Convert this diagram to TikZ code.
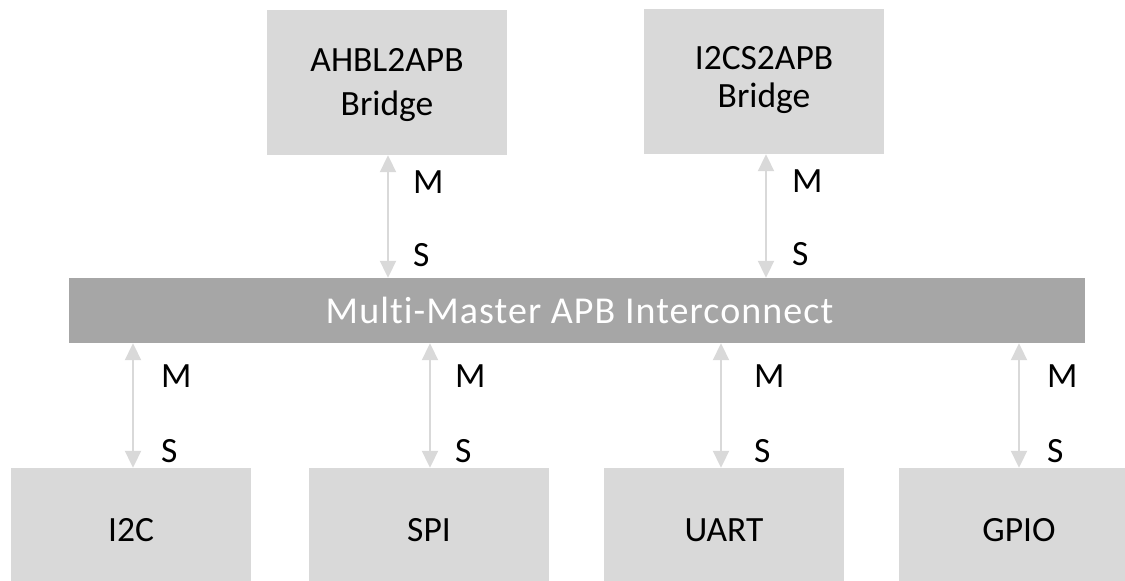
\documentclass[tikz,border=0pt]{standalone}
\usepackage{fontspec}
\setmainfont{Carlito}
\newfontfamily\barfont[Ligatures=NoCommon,LetterSpace=2.8]{Carlito}
\usetikzlibrary{arrows.meta}
\definecolor{boxgray}{HTML}{D9D9D9}
\definecolor{bargray}{HTML}{A6A6A6}
\definecolor{arrgray}{HTML}{D9D9D9}
\tikzset{
  unit/.style={fill=boxgray, draw=none, minimum width=240pt, inner sep=0pt, align=center,
    font=\fontsize{35.5}{43}\selectfont},
  busbar/.style={fill=bargray, draw=none, minimum width=1016pt, minimum height=65pt, inner sep=0pt,
    text=white, font=\barfont\fontsize{38}{43}\selectfont},
  conn/.style={draw=arrgray, line width=2pt,
    {Triangle[width=16pt,length=17pt]}-{Triangle[width=16pt,length=17pt]}},
  lbl/.style={anchor=west, inner sep=0pt, font=\fontsize{35.5}{43}\selectfont},
}
\begin{document}
\begin{tikzpicture}[x=1pt,y=-1pt]
\useasboundingbox (0,0) rectangle (1125,581);
% top bridges
\node[unit, minimum height=145pt] (ahb) at (387,82.5) {};
\node[unit, font=\fontsize{35.5}{44}\selectfont, fill=none] (ahbt) at ([yshift=-2.5pt]ahb.center) {AHBL2APB\\Bridge};
\node[unit, minimum height=145pt] (i2cs) at (764,81.5) {};
\node[unit, font=\fontsize{35.5}{38}\selectfont, fill=none] (i2cst) at ([yshift=1.5pt]i2cs.center) {I2CS2APB\\Bridge};
% bus
\node[busbar] (bar) at (577,310.5) {\hspace{5pt}Multi-Master APB Interconnect};
% bottom peripherals
\node[unit, minimum height=124pt] (i2c) at (131,530) {I2C};
\node[unit, minimum height=124pt] (spi) at (429,530) {SPI};
\node[unit, minimum height=124pt] (uart) at (724,530) {UART};
\node[unit, minimum height=124pt] (gpio) at (1019,530) {GPIO};
% connectors
\draw[conn] ([xshift=1pt]ahb.south) -- ([xshift=1pt]ahb.south |- bar.north);
\draw[conn] ([xshift=2pt]i2cs.south) -- ([xshift=2pt]i2cs.south |- bar.north);
\draw[conn] ([xshift=2pt]i2c.north |- bar.south) -- ([xshift=2pt]i2c.north);
\draw[conn] ([xshift=1pt]spi.north |- bar.south) -- ([xshift=1pt]spi.north);
\draw[conn] ([xshift=-3pt]uart.north |- bar.south) -- ([xshift=-3pt]uart.north);
\draw[conn] (gpio.north |- bar.south) -- (gpio.north);
% labels
\node[lbl] (m1) at ([xshift=26pt,yshift=-27pt]ahb.south) {M};
\node[lbl] (s1) at ([xshift=26pt,yshift=-100pt]ahb.south) {S};
\node[lbl] (m2) at ([xshift=28pt,yshift=-27pt]i2cs.south) {M};
\node[lbl] (s2) at ([xshift=28pt,yshift=-100pt]i2cs.south) {S};
\node[lbl] (m3) at ([xshift=30pt,yshift=-33pt]i2c.north |- bar.south) {M};
\node[lbl] (s3) at ([xshift=30pt,yshift=-108pt]i2c.north |- bar.south) {S};
\node[lbl] (m4) at ([xshift=26pt,yshift=-33pt]spi.north |- bar.south) {M};
\node[lbl] (s4) at ([xshift=26pt,yshift=-108pt]spi.north |- bar.south) {S};
\node[lbl] (m5) at ([xshift=30pt,yshift=-33pt]uart.north |- bar.south) {M};
\node[lbl] (s5) at ([xshift=30pt,yshift=-108pt]uart.north |- bar.south) {S};
\node[lbl] (m6) at ([xshift=28pt,yshift=-33pt]gpio.north |- bar.south) {M};
\node[lbl] (s6) at ([xshift=28pt,yshift=-108pt]gpio.north |- bar.south) {S};
\end{tikzpicture}
\end{document}
